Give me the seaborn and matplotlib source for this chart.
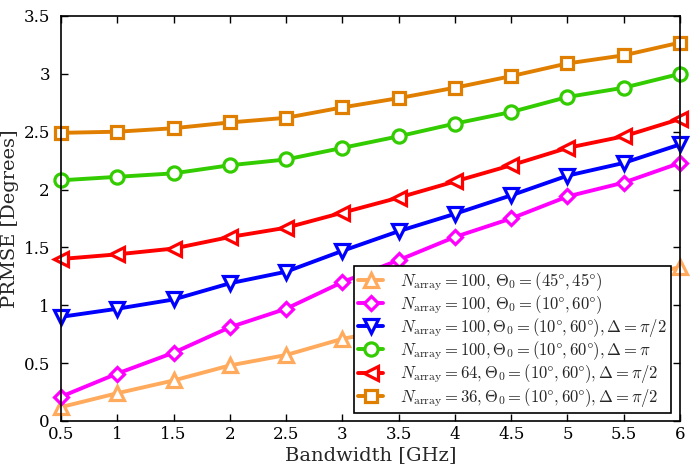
import matplotlib
matplotlib.use('Agg')
import matplotlib.pyplot as plt
import pandas as pd
import seaborn as sns

# bandwidth sweep [GHz]
bandwidth = [0.5, 1, 1.5, 2, 2.5, 3, 3.5, 4, 4.5, 5, 5.5, 6]

# PRMSE [degrees]
prmse_100_45 = [0.12, 0.24, 0.35, 0.48, 0.57, 0.71, 0.80, 0.91, 1.01, 1.12, 1.22, 1.33]
prmse_100_10 = [0.21, 0.41, 0.59, 0.81, 0.97, 1.20, 1.39, 1.59, 1.75, 1.94, 2.06, 2.23]
prmse_100_pi2 = [0.90, 0.97, 1.05, 1.19, 1.29, 1.47, 1.64, 1.79, 1.95, 2.12, 2.23, 2.39]
prmse_100_pi = [2.08, 2.11, 2.14, 2.21, 2.26, 2.36, 2.46, 2.57, 2.67, 2.80, 2.88, 3.00]
prmse_64_pi2 = [1.40, 1.44, 1.49, 1.59, 1.67, 1.80, 1.93, 2.07, 2.21, 2.36, 2.46, 2.61]
prmse_36_pi2 = [2.49, 2.50, 2.53, 2.58, 2.62, 2.71, 2.79, 2.88, 2.98, 3.09, 3.16, 3.27]

labels = [
    r'$N_{\mathrm{array}}=100,\,\Theta_0=(45\degree,45\degree)$',
    r'$N_{\mathrm{array}}=100,\,\Theta_0=(10\degree,60\degree)$',
    r'$N_{\mathrm{array}}=100,\Theta_0=(10\degree,60\degree),\Delta=\pi/2$',
    r'$N_{\mathrm{array}}=100,\Theta_0=(10\degree,60\degree),\Delta=\pi$',
    r'$N_{\mathrm{array}}=64,\Theta_0=(10\degree,60\degree),\Delta=\pi/2$',
    r'$N_{\mathrm{array}}=36,\Theta_0=(10\degree,60\degree),\Delta=\pi/2$',
]
series = [prmse_100_45, prmse_100_10, prmse_100_pi2, prmse_100_pi, prmse_64_pi2, prmse_36_pi2]
colors = ['#FFAA5C', '#FF00FF', '#0000FF', '#33CC00', '#FF0000', '#E07E00']
markers = ['^', 'D', 'v', 'o', '<', 's']
msizes = [10, 7.5, 10, 9.5, 10, 8]

sns.set_style('ticks')
plt.rcParams['font.family'] = ['DejaVu Serif']
plt.rcParams['mathtext.fontset'] = 'cm'

fig = plt.figure(figsize=(6.99, 4.66), dpi=100)
ax = fig.add_axes([0.0873, 0.0966, 0.8855, 0.8691])

for lab, vals, c, m, ms in zip(labels, series, colors, markers, msizes):
    df = pd.DataFrame({'bw': bandwidth, 'prmse': vals})
    sns.lineplot(data=df, x='bw', y='prmse', ax=ax, color=c, lw=2.8,
                 marker=m, markersize=ms, markerfacecolor='white',
                 markeredgecolor=c, markeredgewidth=2.3, label=lab, clip_on=False)

ax.set_xlim(0.5, 6)
ax.set_ylim(0, 3.5)
ax.set_xticks(bandwidth)
ax.set_xticklabels(['0.5', '1', '1.5', '2', '2.5', '3', '3.5', '4', '4.5', '5', '5.5', '6'])
ax.set_yticks([0, 0.5, 1, 1.5, 2, 2.5, 3, 3.5])
ax.set_yticklabels(['0', '0.5', '1', '1.5', '2', '2.5', '3', '3.5'])
ax.tick_params(direction='in', top=True, right=True, length=5, width=1,
               labelsize=12, colors='black')
ax.tick_params(axis='y', pad=8)
for s in ax.spines.values():
    s.set_linewidth(1.2)
    s.set_color('black')
ax.set_xlabel('Bandwidth [GHz]', fontsize=14, labelpad=2)
ax.set_ylabel('PRMSE [Degrees]', fontsize=14, labelpad=3)

leg = ax.legend(loc='lower right', bbox_to_anchor=(0.985, 0.02), fontsize=12,
                frameon=True, fancybox=False, framealpha=1, edgecolor='black',
                handlelength=1.5, handletextpad=1.0, borderpad=0.25,
                labelspacing=0.02, borderaxespad=0)
leg.get_frame().set_linewidth(1.2)
leg.set_zorder(5)

fig.savefig('out.png', dpi=100)
